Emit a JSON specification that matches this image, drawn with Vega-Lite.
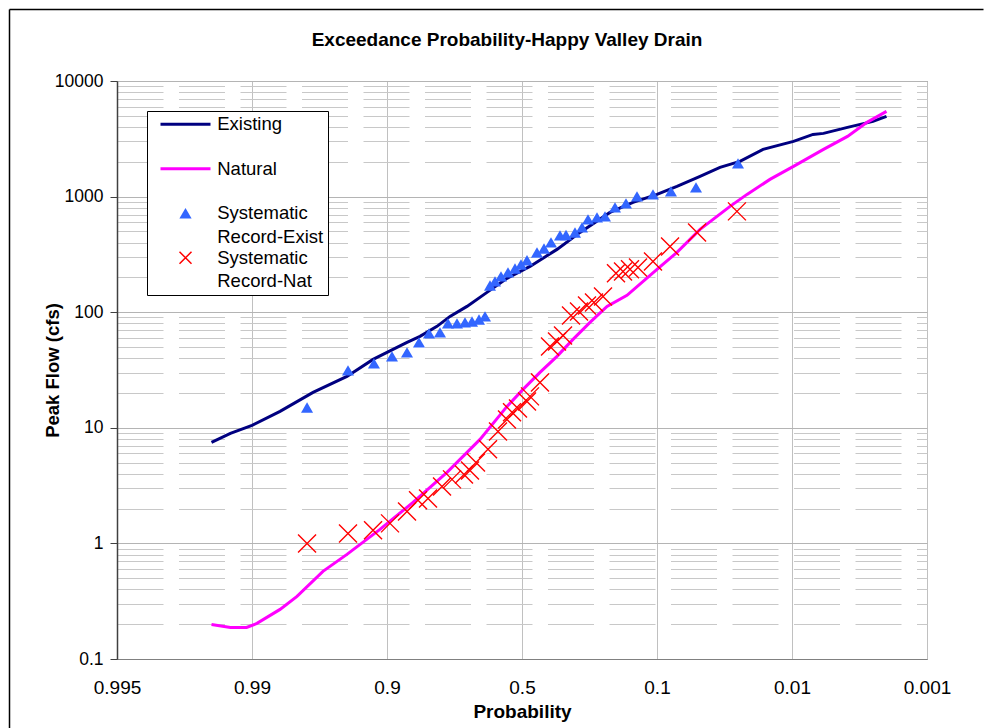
{
  "$schema": "https://vega.github.io/schema/vega-lite/v6.json",
  "width": 810,
  "height": 578,
  "autosize": {"type": "none"},
  "padding": {"left": 117, "top": 81, "right": 57, "bottom": 69},
  "background": "white",
  "config": {
    "font": "Liberation Sans",
    "view": {"stroke": "#808080", "strokeWidth": 1}
  },
  "title": {
    "text": "Exceedance Probability-Happy Valley Drain",
    "fontSize": 19,
    "fontWeight": "bold",
    "color": "black",
    "anchor": "middle",
    "frame": "group",
    "dx": -15,
    "dy": 41,
    "offset": 0
  },
  "layer": [
    {
      "data": {
        "values": [
          {"series": "Existing", "probability": 0.9915, "flow": 7.48},
          {"series": "Existing", "probability": 0.9908, "flow": 8.94},
          {"series": "Existing", "probability": 0.9904, "flow": 9.69},
          {"series": "Existing", "probability": 0.99, "flow": 10.49},
          {"series": "Existing", "probability": 0.9713, "flow": 13.87},
          {"series": "Existing", "probability": 0.9493, "flow": 20.24},
          {"series": "Existing", "probability": 0.9267, "flow": 27.84},
          {"series": "Existing", "probability": 0.9093, "flow": 39.05},
          {"series": "Existing", "probability": 0.8822, "flow": 47.67},
          {"series": "Existing", "probability": 0.8407, "flow": 54.8},
          {"series": "Existing", "probability": 0.8022, "flow": 61.76},
          {"series": "Existing", "probability": 0.7519, "flow": 75.4},
          {"series": "Existing", "probability": 0.7133, "flow": 91.96},
          {"series": "Existing", "probability": 0.663, "flow": 112.3},
          {"series": "Existing", "probability": 0.6037, "flow": 148.4},
          {"series": "Existing", "probability": 0.5444, "flow": 196.1},
          {"series": "Existing", "probability": 0.4763, "flow": 249},
          {"series": "Existing", "probability": 0.3963, "flow": 349.4},
          {"series": "Existing", "probability": 0.3281, "flow": 490},
          {"series": "Existing", "probability": 0.2393, "flow": 730},
          {"series": "Existing", "probability": 0.1711, "flow": 891},
          {"series": "Existing", "probability": 0.1, "flow": 1045},
          {"series": "Existing", "probability": 0.0867, "flow": 1225},
          {"series": "Existing", "probability": 0.0713, "flow": 1495},
          {"series": "Existing", "probability": 0.058, "flow": 1789},
          {"series": "Existing", "probability": 0.0447, "flow": 2016},
          {"series": "Existing", "probability": 0.0293, "flow": 2561},
          {"series": "Existing", "probability": 0.0099, "flow": 3003},
          {"series": "Existing", "probability": 0.0086, "flow": 3452},
          {"series": "Existing", "probability": 0.0079, "flow": 3522},
          {"series": "Existing", "probability": 0.0063, "flow": 3968},
          {"series": "Existing", "probability": 0.0046, "flow": 4473},
          {"series": "Existing", "probability": 0.0037, "flow": 4941},
          {"series": "Natural", "probability": 0.9915, "flow": 0.1992},
          {"series": "Natural", "probability": 0.9908, "flow": 0.1877},
          {"series": "Natural", "probability": 0.9902, "flow": 0.1877},
          {"series": "Natural", "probability": 0.9867, "flow": 0.2032},
          {"series": "Natural", "probability": 0.9713, "flow": 0.2686},
          {"series": "Natural", "probability": 0.96, "flow": 0.3479},
          {"series": "Natural", "probability": 0.9427, "flow": 0.5726},
          {"series": "Natural", "probability": 0.9267, "flow": 0.8031},
          {"series": "Natural", "probability": 0.9047, "flow": 1.322},
          {"series": "Natural", "probability": 0.823, "flow": 2.263},
          {"series": "Natural", "probability": 0.7222, "flow": 4.114},
          {"series": "Natural", "probability": 0.6244, "flow": 7.938},
          {"series": "Natural", "probability": 0.5444, "flow": 15.32},
          {"series": "Natural", "probability": 0.497, "flow": 21.49},
          {"series": "Natural", "probability": 0.4467, "flow": 30.15},
          {"series": "Natural", "probability": 0.3963, "flow": 41.46},
          {"series": "Natural", "probability": 0.3489, "flow": 58.17},
          {"series": "Natural", "probability": 0.2985, "flow": 81.6},
          {"series": "Natural", "probability": 0.2481, "flow": 112.3},
          {"series": "Natural", "probability": 0.1889, "flow": 139.8},
          {"series": "Natural", "probability": 0.1, "flow": 234.6},
          {"series": "Natural", "probability": 0.0867, "flow": 329.1},
          {"series": "Natural", "probability": 0.0713, "flow": 520.2},
          {"series": "Natural", "probability": 0.0513, "flow": 822.8},
          {"series": "Natural", "probability": 0.04, "flow": 1045},
          {"series": "Natural", "probability": 0.0247, "flow": 1409},
          {"series": "Natural", "probability": 0.0099, "flow": 1825},
          {"series": "Natural", "probability": 0.0079, "flow": 2561},
          {"series": "Natural", "probability": 0.0063, "flow": 3317},
          {"series": "Natural", "probability": 0.005, "flow": 4385},
          {"series": "Natural", "probability": 0.0037, "flow": 5458},
          {"series": "Systematic Record-Exist", "probability": 0.9533, "flow": 15.0},
          {"series": "Systematic Record-Exist", "probability": 0.926, "flow": 31.4},
          {"series": "Systematic Record-Exist", "probability": 0.9087, "flow": 36.1},
          {"series": "Systematic Record-Exist", "probability": 0.8852, "flow": 41.5},
          {"series": "Systematic Record-Exist", "probability": 0.8407, "flow": 44.9},
          {"series": "Systematic Record-Exist", "probability": 0.8052, "flow": 54.8},
          {"series": "Systematic Record-Exist", "probability": 0.7756, "flow": 65.6},
          {"series": "Systematic Record-Exist", "probability": 0.743, "flow": 66.9},
          {"series": "Systematic Record-Exist", "probability": 0.7193, "flow": 80.0},
          {"series": "Systematic Record-Exist", "probability": 0.6926, "flow": 80.0},
          {"series": "Systematic Record-Exist", "probability": 0.6689, "flow": 81.6},
          {"series": "Systematic Record-Exist", "probability": 0.6481, "flow": 83.2},
          {"series": "Systematic Record-Exist", "probability": 0.6274, "flow": 86.6},
          {"series": "Systematic Record-Exist", "probability": 0.6096, "flow": 92.0},
          {"series": "Systematic Record-Exist", "probability": 0.5948, "flow": 170.5},
          {"series": "Systematic Record-Exist", "probability": 0.58, "flow": 184.7},
          {"series": "Systematic Record-Exist", "probability": 0.5622, "flow": 204},
          {"series": "Systematic Record-Exist", "probability": 0.5415, "flow": 221},
          {"series": "Systematic Record-Exist", "probability": 0.5207, "flow": 239},
          {"series": "Systematic Record-Exist", "probability": 0.503, "flow": 259},
          {"series": "Systematic Record-Exist", "probability": 0.4852, "flow": 281},
          {"series": "Systematic Record-Exist", "probability": 0.4556, "flow": 329},
          {"series": "Systematic Record-Exist", "probability": 0.4348, "flow": 356},
          {"series": "Systematic Record-Exist", "probability": 0.4141, "flow": 402},
          {"series": "Systematic Record-Exist", "probability": 0.3874, "flow": 462},
          {"series": "Systematic Record-Exist", "probability": 0.3696, "flow": 466},
          {"series": "Systematic Record-Exist", "probability": 0.343, "flow": 490},
          {"series": "Systematic Record-Exist", "probability": 0.3222, "flow": 542},
          {"series": "Systematic Record-Exist", "probability": 0.3044, "flow": 635},
          {"series": "Systematic Record-Exist", "probability": 0.2778, "flow": 661},
          {"series": "Systematic Record-Exist", "probability": 0.2541, "flow": 674},
          {"series": "Systematic Record-Exist", "probability": 0.2244, "flow": 807},
          {"series": "Systematic Record-Exist", "probability": 0.1919, "flow": 874},
          {"series": "Systematic Record-Exist", "probability": 0.1593, "flow": 1004},
          {"series": "Systematic Record-Exist", "probability": 0.1119, "flow": 1045},
          {"series": "Systematic Record-Exist", "probability": 0.0907, "flow": 1109},
          {"series": "Systematic Record-Exist", "probability": 0.074, "flow": 1201},
          {"series": "Systematic Record-Exist", "probability": 0.046, "flow": 1937},
          {"series": "Systematic Record-Nat", "probability": 0.9533, "flow": 1.0},
          {"series": "Systematic Record-Nat", "probability": 0.926, "flow": 1.22},
          {"series": "Systematic Record-Nat", "probability": 0.9093, "flow": 1.3},
          {"series": "Systematic Record-Nat", "probability": 0.8911, "flow": 1.49},
          {"series": "Systematic Record-Nat", "probability": 0.8407, "flow": 1.89},
          {"series": "Systematic Record-Nat", "probability": 0.8081, "flow": 2.36},
          {"series": "Systematic Record-Nat", "probability": 0.7785, "flow": 2.45},
          {"series": "Systematic Record-Nat", "probability": 0.737, "flow": 3.11},
          {"series": "Systematic Record-Nat", "probability": 0.7074, "flow": 3.58},
          {"series": "Systematic Record-Nat", "probability": 0.6719, "flow": 3.95},
          {"series": "Systematic Record-Nat", "probability": 0.6541, "flow": 4.28},
          {"series": "Systematic Record-Nat", "probability": 0.6363, "flow": 5.02},
          {"series": "Systematic Record-Nat", "probability": 0.6007, "flow": 6.51},
          {"series": "Systematic Record-Nat", "probability": 0.5711, "flow": 9.31},
          {"series": "Systematic Record-Nat", "probability": 0.5444, "flow": 11.8},
          {"series": "Systematic Record-Nat", "probability": 0.5296, "flow": 13.6},
          {"series": "Systematic Record-Nat", "probability": 0.5119, "flow": 14.7},
          {"series": "Systematic Record-Nat", "probability": 0.4852, "flow": 16.9},
          {"series": "Systematic Record-Nat", "probability": 0.4763, "flow": 18.7},
          {"series": "Systematic Record-Nat", "probability": 0.4467, "flow": 24.7},
          {"series": "Systematic Record-Nat", "probability": 0.417, "flow": 50.6},
          {"series": "Systematic Record-Nat", "probability": 0.3963, "flow": 55.9},
          {"series": "Systematic Record-Nat", "probability": 0.3785, "flow": 63.0},
          {"series": "Systematic Record-Nat", "probability": 0.3548, "flow": 93.8},
          {"series": "Systematic Record-Nat", "probability": 0.3311, "flow": 101.6},
          {"series": "Systematic Record-Nat", "probability": 0.3074, "flow": 114.5},
          {"series": "Systematic Record-Nat", "probability": 0.2867, "flow": 121.6},
          {"series": "Systematic Record-Nat", "probability": 0.26, "flow": 137},
          {"series": "Systematic Record-Nat", "probability": 0.2215, "flow": 217},
          {"series": "Systematic Record-Nat", "probability": 0.2007, "flow": 225},
          {"series": "Systematic Record-Nat", "probability": 0.18, "flow": 235},
          {"series": "Systematic Record-Nat", "probability": 0.1563, "flow": 244},
          {"series": "Systematic Record-Nat", "probability": 0.1119, "flow": 275},
          {"series": "Systematic Record-Nat", "probability": 0.0913, "flow": 371},
          {"series": "Systematic Record-Nat", "probability": 0.0733, "flow": 490},
          {"series": "Systematic Record-Nat", "probability": 0.0467, "flow": 745}
        ]
      },
      "encoding": {
        "x": {
          "field": "probability",
          "type": "quantitative",
          "scale": {
            "domain": [0.995, 0.99, 0.9, 0.5, 0.1, 0.01, 0.001],
            "range": [0, 135, 270, 405, 540, 675, 810],
            "nice": false,
            "zero": false
          },
          "axis": {
            "values": [0.995, 0.99, 0.9, 0.5, 0.1, 0.01, 0.001],
            "format": ".6~g",
            "grid": true,
            "gridColor": "#c0c0c0",
            "gridWidth": 1,
            "ticks": false,
            "tickSize": 0,
            "labelPadding": 19,
            "labelFontSize": 19,
            "labelColor": "black",
            "labelFlush": false,
            "labelOverlap": false,
            "domainColor": "#808080",
            "title": "Probability",
            "titleFontSize": 19,
            "titleFontWeight": "bold",
            "titleColor": "black",
            "titleY": 52,
            "titleBaseline": "middle"
          }
        },
        "y": {
          "field": "flow",
          "type": "quantitative",
          "scale": {"type": "log", "domain": [0.1, 10000], "nice": false},
          "axis": {
            "values": [0.1, 0.2, 0.3, 0.4, 0.5, 0.6, 0.7, 0.8, 0.9, 1, 2, 3, 4, 5, 6, 7, 8, 9, 10, 20, 30, 40, 50, 60, 70, 80, 90, 100, 200, 300, 400, 500, 600, 700, 800, 900, 1000, 2000, 3000, 4000, 5000, 6000, 7000, 8000, 9000, 10000],
            "format": "~g",
            "labelExpr": "indexof([0.1, 1, 10, 100, 1000, 10000], datum.value) >= 0 ? datum.label : ''",
            "grid": true,
            "gridColor": {"condition": {"test": "indexof([0.1, 1, 10, 100, 1000, 10000], datum.value) >= 0", "value": "#b4b4b4"}, "value": "#c8c8c8"},
            "gridDash": {"condition": {"test": "indexof([0.1, 1, 10, 100, 1000, 10000], datum.value) >= 0", "value": []}, "value": [46, 15.5]},
            "tickOpacity": {"condition": {"test": "indexof([0.1, 1, 10, 100, 1000, 10000], datum.value) >= 0", "value": 1}, "value": 0},
            "tickSize": 7,
            "tickColor": "#404040",
            "labelPadding": 7,
            "labelFontSize": 17.5,
            "labelColor": "black",
            "labelFlush": false,
            "labelOverlap": false,
            "domainColor": "#404040",
            "domainWidth": 1.5,
            "title": "Peak Flow (cfs)",
            "titleFontSize": 18.5,
            "titleFontWeight": "bold",
            "titleColor": "black",
            "titleX": -65,
            "titleY": 289,
            "titleAngle": 270,
            "titleAlign": "center",
            "titleBaseline": "middle"
          }
        },
        "color": {
          "field": "series",
          "type": "nominal",
          "scale": {
            "domain": ["Existing", "Natural", "Systematic Record-Exist", "Systematic Record-Nat"],
            "range": ["#000080", "#FF00FF", "#3366FF", "#FF0000"]
          },
          "legend": {
            "orient": "none",
            "legendX": 30,
            "legendY": 30,
            "title": null,
            "padding": 4,
            "strokeColor": "black",
            "fillColor": "white",
            "labelFontSize": 18.5,
            "labelColor": "black",
            "labelLimit": 400,
            "labelOffset": 22.5,
            "symbolOffset": 25.25,
            "rowPadding": 1.5,
            "labelExpr": "datum.label == 'Systematic Record-Exist' ? ['Systematic', 'Record-Exist'] : datum.label == 'Systematic Record-Nat' ? ['Systematic', 'Record-Nat'] : [datum.label, '']",
            "encode": {
              "labels": {
                "update": {
                  "lineHeight": {"value": 23.5}
                }
              },
              "symbols": {
                "update": {
                  "shape": {"signal": "datum.value == 'Systematic Record-Exist' ? 'triangle-up' : datum.value == 'Systematic Record-Nat' ? 'M-1,-1L1,1M-1,1L1,-1' : 'stroke'"},
                  "size": {"signal": "datum.value == 'Systematic Record-Exist' ? 150 : datum.value == 'Systematic Record-Nat' ? 144 : 2500"},
                  "fill": {"signal": "datum.value == 'Systematic Record-Exist' ? '#3366FF' : 'transparent'"},
                  "stroke": {"signal": "datum.value == 'Existing' ? '#000080' : datum.value == 'Natural' ? '#FF00FF' : datum.value == 'Systematic Record-Nat' ? '#FF0000' : 'transparent'"},
                  "strokeWidth": {"signal": "datum.value == 'Systematic Record-Nat' ? 1.5 : datum.value == 'Systematic Record-Exist' ? 0 : 3"},
                  "opacity": {"value": 1}
                }
              }
            }
          }
        }
      },
      "layer": [
        {
          "transform": [{"filter": "datum.series == 'Existing'"}],
          "mark": {"type": "line", "strokeWidth": 3}
        },
        {
          "transform": [{"filter": "datum.series == 'Natural'"}],
          "mark": {"type": "line", "strokeWidth": 3}
        },
        {
          "transform": [{"filter": "datum.series == 'Systematic Record-Exist'"}],
          "mark": {"type": "point", "shape": "triangle-up", "filled": true, "size": 145, "opacity": 1}
        },
        {
          "transform": [{"filter": "datum.series == 'Systematic Record-Nat'"}],
          "mark": {"type": "point", "shape": "M-1,-1L1,1M-1,1L1,-1", "filled": false, "size": 324, "strokeWidth": 1.4, "opacity": 1}
        }
      ]
    },
    {
      "data": {"values": [{"fx": 0, "fy": 0}]},
      "mark": {"type": "point", "opacity": 0},
      "encoding": {
        "x": {
          "field": "fx",
          "type": "quantitative",
          "scale": {"domain": [0, 1], "range": [-108, 866], "nice": false, "zero": false},
          "axis": {"orient": "top", "offset": 72, "domain": true, "domainColor": "black", "domainWidth": 1.5, "ticks": false, "labels": false, "grid": false, "title": null}
        },
        "y": {
          "field": "fy",
          "type": "quantitative",
          "scale": {"domain": [0, 1], "range": [647, -72], "nice": false, "zero": false},
          "axis": {"orient": "left", "offset": 108, "domain": true, "domainColor": "black", "domainWidth": 1.5, "ticks": false, "labels": false, "grid": false, "title": null}
        }
      }
    }
  ],
  "resolve": {"scale": {"x": "independent", "y": "independent"}}
}
